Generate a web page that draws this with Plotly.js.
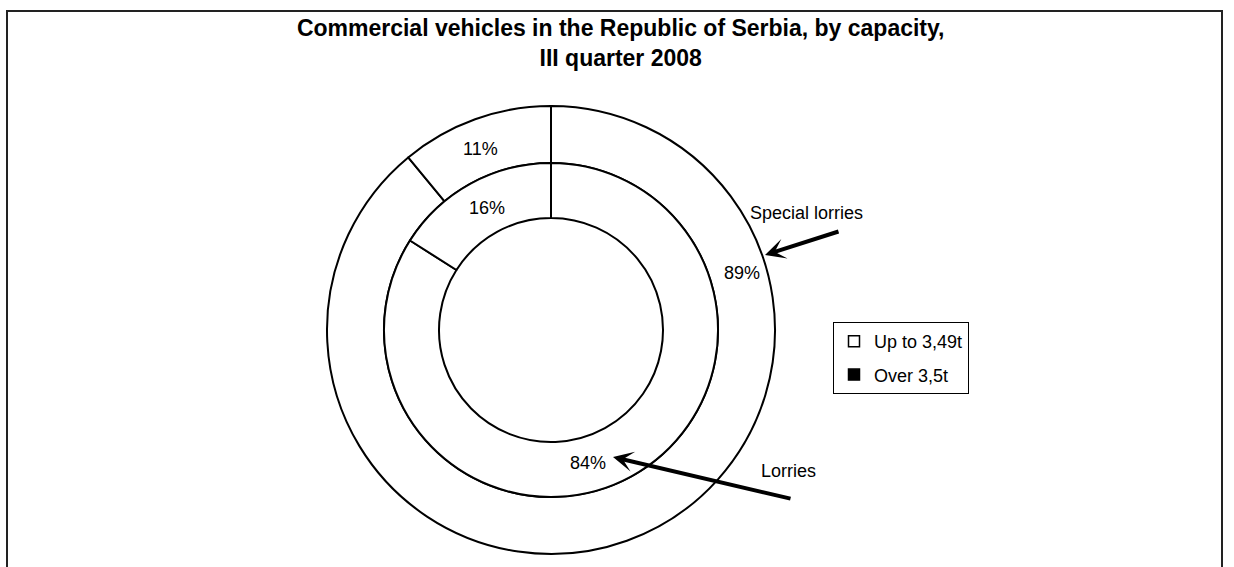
<!DOCTYPE html>
<html><head><meta charset="utf-8">
<script src="https://cdn.plot.ly/plotly-3.0.1.min.js"></script>
<style>html,body{margin:0;padding:0;background:#fff}#chart{width:1234px;height:567px}</style>
</head><body><div id="chart"></div>
<script>
// ---- data ----
const titleLines = ['Commercial vehicles in the Republic of Serbia, by capacity,', 'III quarter 2008'];
const capacityClasses = ['Up to 3,49t', 'Over 3,5t'];
const specialLorriesShare = [89, 11];
const lorriesShare = [84, 16];
const seriesNames = ['Special lorries', 'Lorries'];
const legendFill = ['#ffffff', '#000000'];

// ---- layout helpers ----
const W = 1234, H = 567;
const px = x => x / W;
const py = y => 1 - y / H;
const FONT = 'Arial, "Liberation Sans", sans-serif';
const cx = 551, cy = 330, rOuter = 224, rMid = 167, rHole = 112;

function pct(vals, i) {
  const s = vals.reduce((a, b) => a + b, 0);
  return Math.round(vals[i] / s * 100) + '%';
}

const ringStyle = {colors: ['#ffffff', '#ffffff'], line: {color: '#000000', width: 2}};

const data = [
  {
    type: 'pie', name: seriesNames[0], labels: capacityClasses, values: specialLorriesShare,
    sort: false, direction: 'clockwise', rotation: 0, textinfo: 'none', hoverinfo: 'label+percent+name',
    hole: rMid / rOuter, marker: ringStyle, showlegend: false,
    domain: {x: [px(cx - rOuter), px(cx + rOuter)], y: [py(cy + rOuter), py(cy - rOuter)]}
  },
  {
    type: 'pie', name: seriesNames[1], labels: capacityClasses, values: lorriesShare,
    sort: false, direction: 'clockwise', rotation: 0, textinfo: 'none', hoverinfo: 'label+percent+name',
    hole: rHole / rMid, marker: ringStyle, showlegend: false,
    domain: {x: [px(cx - rMid), px(cx + rMid)], y: [py(cy + rMid), py(cy - rMid)]}
  }
];
capacityClasses.forEach((c, i) => {
  data.push({
    type: 'scatter', mode: 'markers', x: [null], y: [null], name: c, showlegend: true,
    legendgroup: 'g' + i,
    marker: {symbol: 'square', size: 11, color: legendFill[i], line: {color: '#000000', width: 1.5}},
    hoverinfo: 'skip'
  });
});

const lbl = (text, x, y) => ({text, x: px(x), y: py(y), xref: 'paper', yref: 'paper', showarrow: false,
  xanchor: 'center', yanchor: 'middle', font: {family: FONT, size: 18, color: '#000'}});
const arrow = (hx, hy, tx, ty) => ({text: '', x: px(hx), y: py(hy), xref: 'paper', yref: 'paper',
  showarrow: true, ax: tx - hx, ay: ty - hy, arrowhead: 3, arrowsize: 0.85, arrowwidth: 4,
  arrowcolor: '#000', standoff: 0, font: {size: 1}});

const annotations = [
  lbl(pct(specialLorriesShare, 1), 480, 149),
  lbl(pct(lorriesShare, 1), 487, 208),
  lbl(pct(specialLorriesShare, 0), 742, 273),
  lbl(pct(lorriesShare, 0), 588, 463),
  lbl(seriesNames[0], 806, 213),
  lbl(seriesNames[1], 788, 471),
  arrow(765, 255, 840, 231),
  arrow(613, 457, 792, 499)
];

const layout = {
  width: W, height: H,
  margin: {l: 0, r: 0, t: 0, b: 0},
  paper_bgcolor: '#ffffff', plot_bgcolor: '#ffffff',
  font: {family: FONT, color: '#000'},
  title: {text: titleLines.join('<br>'), x: 0.503, xanchor: 'center', y: py(36), yanchor: 'top',
    font: {family: FONT, size: 23, color: '#000', weight: 'bold'}},
  xaxis: {visible: false}, yaxis: {visible: false},
  legend: {x: px(833), y: py(322), xanchor: 'left', yanchor: 'top', bordercolor: '#000', borderwidth: 1,
    bgcolor: '#ffffff', tracegroupgap: 7, font: {family: FONT, size: 18, color: '#000'},
    itemclick: false, itemdoubleclick: false},
  annotations,
  shapes: [{type: 'rect', xref: 'paper', yref: 'paper', x0: px(7), x1: px(1222), y0: -0.2, y1: py(11),
    line: {color: '#222', width: 2}, fillcolor: 'rgba(0,0,0,0)', layer: 'below'}]
};

Plotly.newPlot('chart', data, layout, {displayModeBar: false, staticPlot: true});
</script></body></html>
